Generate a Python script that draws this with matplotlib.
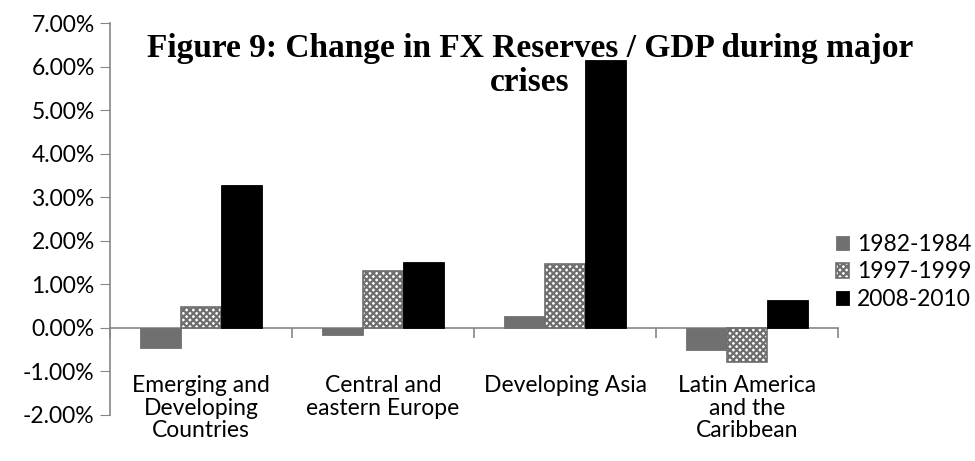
import matplotlib

matplotlib.use("Agg")

import matplotlib.pyplot as plt
import numpy as np
from matplotlib.ticker import FuncFormatter

CATEGORIES = [
    "Emerging and\nDeveloping\nCountries",
    "Central and\neastern Europe",
    "Developing Asia",
    "Latin America\nand the\nCaribbean",
]
SERIES = ["1982-1984", "1997-1999", "2008-2010"]
VALUES_1982 = [-0.47, -0.16, 0.28, -0.51]
VALUES_1997 = [0.48, 1.31, 1.46, -0.79]
VALUES_2008 = [3.29, 1.52, 6.15, 0.64]
Y_TICKS = [-2, -1, 0, 1, 2, 3, 4, 5, 6, 7]

TITLE = "Figure 9: Change in FX Reserves / GDP during major\ncrises"
AXIS_GREY = "#868686"
FONT = ["Lato", "DejaVu Sans"]
LABEL_SIZE = 16.5

plt.rcParams["font.family"] = FONT
plt.rcParams["hatch.linewidth"] = 1.6

fig = plt.figure(figsize=(9.75, 4.61), dpi=100, facecolor="white")
ax = fig.add_axes([0.1128, 0.0998, 0.7467, 0.8497])

x = np.arange(len(CATEGORIES))
width = 0.225
styles = [
    dict(color="#707070", edgecolor="#707070", linewidth=0.6),
    dict(color="white", edgecolor="#6e6e6e", hatch="xxxxx", linewidth=1.2),
    dict(color="black", edgecolor="black", linewidth=0.6),
]
for i, (vals, label, st) in enumerate(zip([VALUES_1982, VALUES_1997, VALUES_2008], SERIES, styles)):
    ax.bar(x + (i - 1) * width, vals, width, label=label, zorder=2, **st)

ax.set_xlim(-0.5, len(CATEGORIES) - 0.5)
ax.set_ylim(Y_TICKS[0], Y_TICKS[-1])
ax.set_yticks(Y_TICKS)
ax.yaxis.set_major_formatter(FuncFormatter(lambda v, _: f"{v:.2f}%"))
ax.tick_params(axis="y", length=7, color=AXIS_GREY, labelsize=LABEL_SIZE, pad=4)
ax.set_xticks([])

for side in ["top", "right", "bottom"]:
    ax.spines[side].set_visible(False)
ax.spines["left"].set_color(AXIS_GREY)
ax.spines["left"].set_linewidth(1.2)

# category axis crossing at zero, labels sit low in the plot area
sec = ax.secondary_xaxis(0, transform=ax.transData)
sec.set_xticks(np.arange(len(CATEGORIES) + 1) - 0.5)
sec.tick_params(length=7, color=AXIS_GREY, width=1.2, labelbottom=False)
sec.spines["bottom"].set_color(AXIS_GREY)
sec.spines["bottom"].set_linewidth(1.2)

for xi, cat in zip(x, CATEGORIES):
    ax.text(xi, -1.08, cat, ha="center", va="top", fontsize=LABEL_SIZE, linespacing=1.1)

fig.text(0.5436, 0.928, TITLE, ha="center", va="top", family=["Liberation Serif"],
         fontweight="bold", fontsize=24, linespacing=1.1)

leg = fig.legend(loc="center left", bbox_to_anchor=(0.857, 0.41), frameon=False,
                 fontsize=LABEL_SIZE, handlelength=0.6, handleheight=0.6,
                 handletextpad=0.35, labelspacing=0.28, borderaxespad=0, borderpad=0)

fig.savefig("out.png", dpi=100, facecolor="white")
